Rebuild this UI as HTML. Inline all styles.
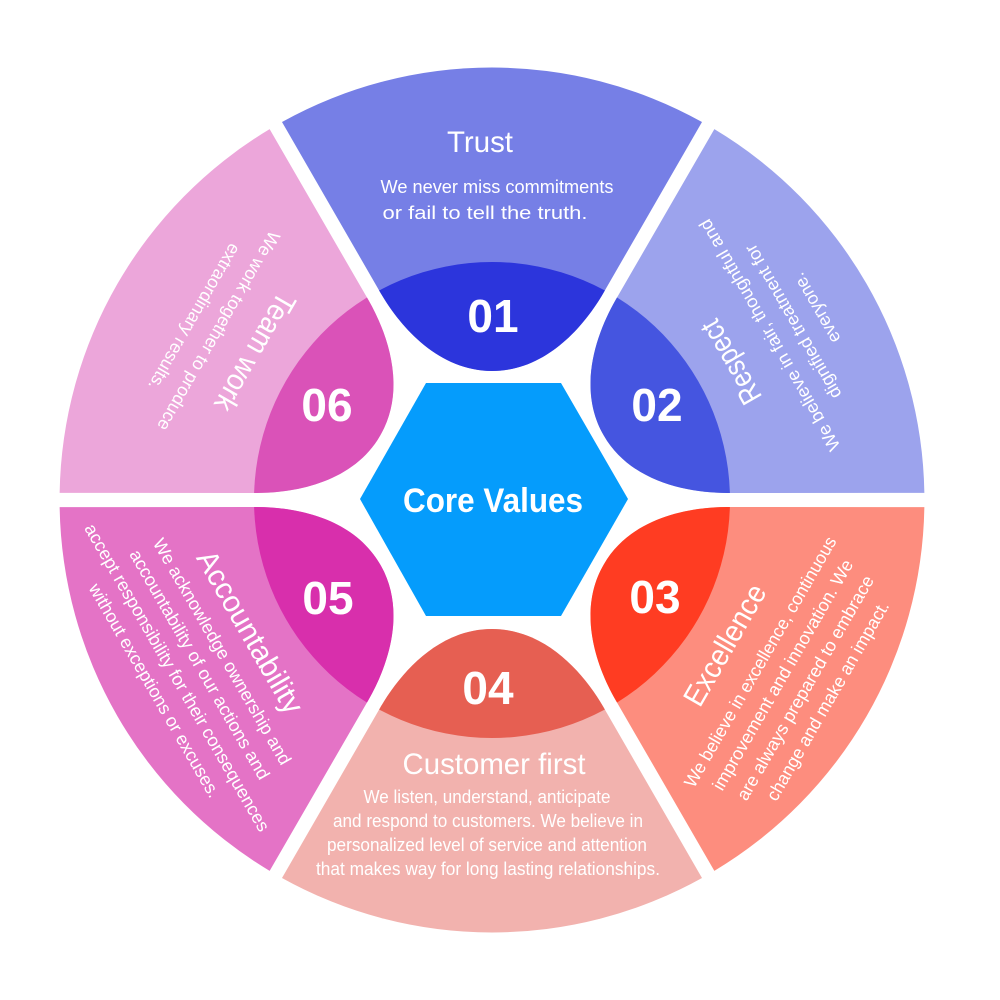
<!DOCTYPE html>
<html><head><meta charset="utf-8"><style>
html,body{margin:0;padding:0;background:#fff;}
svg{display:block;}
text{font-family:"Liberation Sans Narrow","Liberation Sans",sans-serif;fill:#fff;}
.n{font-weight:bold;font-size:46px;text-anchor:middle;}
.t{font-size:30px;text-anchor:middle;}
.b{font-size:18px;text-anchor:middle;}
</style></head><body>
<svg width="1000" height="1000" viewBox="0 0 1000 1000" xmlns="http://www.w3.org/2000/svg">
<defs>
<clipPath id="seg"><path d="M282 122 A432 432 0 0 1 702 122 L603.4 293 C583 328 545 371 492 371 C439 371 401 328 380.6 293 Z"/></clipPath>
<path id="sp" d="M282 122 A432 432 0 0 1 702 122 L603.4 293 C583 328 545 371 492 371 C439 371 401 328 380.6 293 Z"/>
</defs>
<g><use href="#sp" fill="#767fe6"/><circle cx="492" cy="500" r="238" fill="#2c35dc" clip-path="url(#seg)"/></g>
<g transform="rotate(60 492 500)"><use href="#sp" fill="#9ca3ed"/><circle cx="492" cy="500" r="238" fill="#4555e0" clip-path="url(#seg)"/></g>
<g transform="rotate(120 492 500)"><use href="#sp" fill="#fd8d7e"/><circle cx="492" cy="500" r="238" fill="#ff3c22" clip-path="url(#seg)"/></g>
<g transform="rotate(180 492 500)"><use href="#sp" fill="#f2b2ae"/><circle cx="492" cy="500" r="238" fill="#e65f52" clip-path="url(#seg)"/></g>
<g transform="rotate(240 492 500)"><use href="#sp" fill="#e473c6"/><circle cx="492" cy="500" r="238" fill="#d82fac" clip-path="url(#seg)"/></g>
<g transform="rotate(300 492 500)"><use href="#sp" fill="#eca6da"/><circle cx="492" cy="500" r="238" fill="#da52b8" clip-path="url(#seg)"/></g>

<polygon points="360,499 426,383 561,383 628,499 561,616 426,616" fill="#059cfc"/>
<text x="493" y="512" style="font-size:34px;font-weight:bold;text-anchor:middle" textLength="180" lengthAdjust="spacingAndGlyphs">Core Values</text>

<text class="n" x="493" y="332">01</text>
<text class="n" x="657" y="421">02</text>
<text class="n" x="655" y="613">03</text>
<text class="n" x="488" y="704">04</text>
<text class="n" x="328" y="614">05</text>
<text class="n" x="327" y="421">06</text>

<text class="t" x="480" y="152" textLength="66" lengthAdjust="spacingAndGlyphs">Trust</text>
<text class="b" x="497" y="193" textLength="233" lengthAdjust="spacingAndGlyphs">We never miss commitments</text>
<text class="b" x="485" y="219" textLength="205" lengthAdjust="spacingAndGlyphs">or fail to tell the truth.</text>

<text class="t" x="494" y="774" textLength="183" lengthAdjust="spacingAndGlyphs">Customer first</text>
<text class="b" x="487" y="803" textLength="247" lengthAdjust="spacingAndGlyphs">We listen, understand, anticipate</text>
<text class="b" x="488" y="827" textLength="310" lengthAdjust="spacingAndGlyphs">and  respond to customers. We believe in</text>
<text class="b" x="487" y="851" textLength="320" lengthAdjust="spacingAndGlyphs">personalized level of service and attention</text>
<text class="b" x="488" y="875" textLength="344" lengthAdjust="spacingAndGlyphs">that makes way for long lasting relationships.</text>

<g transform="translate(731,362) rotate(-120)">
<text class="t" x="0" y="10" textLength="92" lengthAdjust="spacingAndGlyphs">Respect</text>
<text class="b" x="4" y="53" textLength="264" lengthAdjust="spacingAndGlyphs">We believe in fair, thoughtful and</text>
<text class="b" x="4" y="80" textLength="175" lengthAdjust="spacingAndGlyphs">dignified treatment for</text>
<text class="b" x="4" y="107" textLength="78" lengthAdjust="spacingAndGlyphs">everyone.</text>
</g>

<g transform="translate(255,352) rotate(120)">
<text class="t" x="0" y="10" textLength="132" lengthAdjust="spacingAndGlyphs">Team work</text>
<text class="b" x="0" y="48" textLength="227" lengthAdjust="spacingAndGlyphs">We work together to produce</text>
<text class="b" x="0" y="76" textLength="166" lengthAdjust="spacingAndGlyphs">extraordinary results.</text>
</g>

<g transform="translate(725,645) rotate(-60)">
<text class="t" x="0" y="10" textLength="135" lengthAdjust="spacingAndGlyphs">Excellence</text>
<text class="b" x="3" y="45" textLength="286" lengthAdjust="spacingAndGlyphs">We believe in excellence, continuous</text>
<text class="b" x="3" y="71" textLength="263" lengthAdjust="spacingAndGlyphs">improvement and innovation. We</text>
<text class="b" x="3" y="97" textLength="256" lengthAdjust="spacingAndGlyphs">are always prepared to embrace</text>
<text class="b" x="3" y="123" textLength="227" lengthAdjust="spacingAndGlyphs">change and make an impact.</text>
</g>

<g transform="translate(250,632) rotate(60)">
<text class="t" x="0" y="10" textLength="183" lengthAdjust="spacingAndGlyphs">Accountability</text>
<text class="b" x="3" y="40" textLength="258" lengthAdjust="spacingAndGlyphs">We acknowledge ownership and</text>
<text class="b" x="3" y="66" textLength="262" lengthAdjust="spacingAndGlyphs">accountability of our actions and</text>
<text class="b" x="3" y="92" textLength="352" lengthAdjust="spacingAndGlyphs">accept responsibility for their consequences</text>
<text class="b" x="3" y="118" textLength="244" lengthAdjust="spacingAndGlyphs">without exceptions or excuses.</text>
</g>
</svg>
</body></html>
